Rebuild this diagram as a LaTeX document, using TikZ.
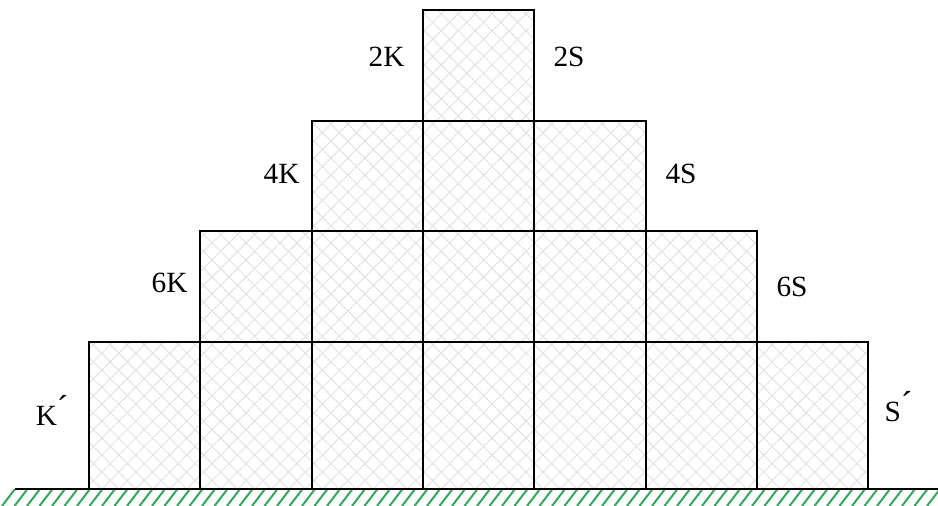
\documentclass[tikz,border=0pt]{standalone}
\usepackage{fontspec}
\setmainfont{Liberation Serif}
\usetikzlibrary{patterns.meta}

\tikzset{every picture/.style={line width=0.75pt}}
\tikzset{
  block/.style={draw=black, line width=1.5pt},
  hatchne/.style={pattern={Lines[angle=45,distance=9pt,line width=0.6pt]}, pattern color=black!13},
  hatchnw/.style={pattern={Lines[angle=-45,distance=9pt,line width=0.6pt]}, pattern color=black!13},
  lbl/.style={inner sep=0.75pt, font=\fontsize{22}{26}\selectfont},
  groundhatch/.style={draw={rgb,255:red,50;green,168;blue,95}, line width=1.5pt},
}
\newcommand{\prm}{\raisebox{0.18em}{\fontsize{26}{26}\selectfont´}}

\begin{document}
\begin{tikzpicture}[x=0.75pt,y=0.75pt,yscale=-1,xscale=1]
\useasboundingbox (0,0) rectangle (938,506);

% blocks: row \r spans columns 3-\r to 3+\r
\foreach \r/\top/\bot in {0/10/120.7, 1/120.7/231.3, 2/231.3/342, 3/342/489}{
  \pgfmathtruncatemacro{\first}{3-\r}
  \pgfmathtruncatemacro{\last}{3+\r}
  \foreach \c in {\first,...,\last}{
    \fill[hatchne] ({89+111.3*\c},\top) rectangle ({89+111.3*(\c+1)},\bot);
    \fill[hatchnw] ({89+111.3*\c},\top) rectangle ({89+111.3*(\c+1)},\bot);
    \draw[block] ({89+111.3*\c},\top) rectangle ({89+111.3*(\c+1)},\bot);
  }
}

% ground
\begin{scope}
\clip (0,489) rectangle (938,506);
\foreach \x in {15,27.5,...,950}{
  \draw[groundhatch] ({\x-13},506) -- (\x,489);
}
\end{scope}
\draw[line width=1.5pt] (15,489) -- (938,489);

% labels
\node[lbl, anchor=base east] (k2) at (406,67) {2K};
\node[lbl, anchor=base west] (s2) at (552,67) {2S};
\node[lbl, anchor=base east] (k4) at (301,184) {4K};
\node[lbl, anchor=base west] (s4) at (664,184) {4S};
\node[lbl, anchor=base east] (k6) at (189,292) {6K};
\node[lbl, anchor=base west] (s6) at (775,296) {6S};
\node[lbl, anchor=base east] (kp) at (70,425) {K\prm};
\node[lbl, anchor=base west] (sp) at (883,421) {S\prm};

\end{tikzpicture}
\end{document}
